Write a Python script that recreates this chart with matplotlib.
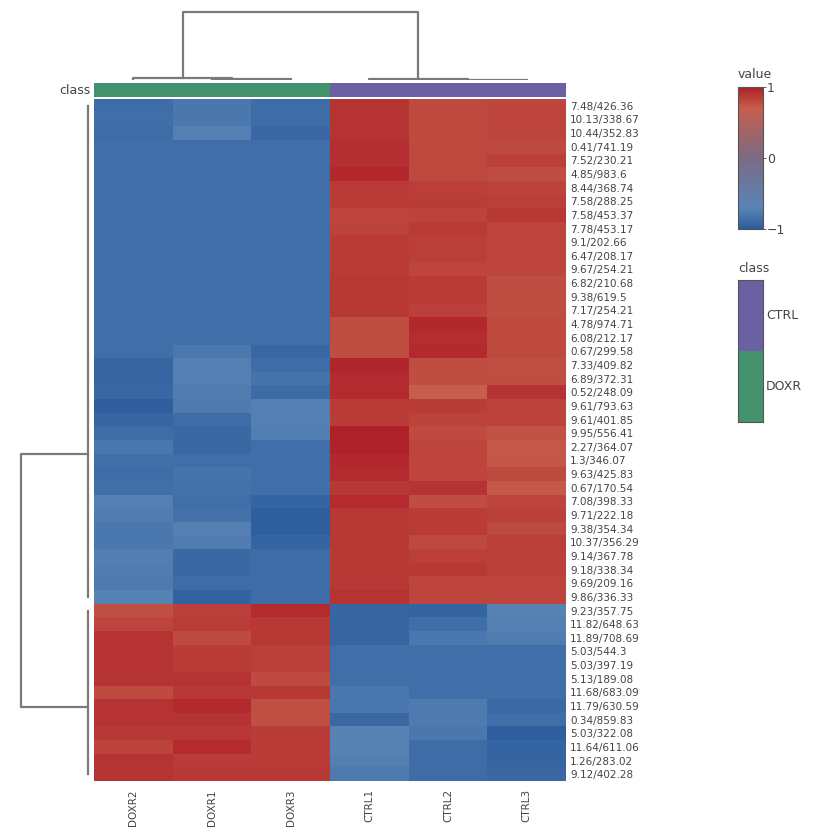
import numpy as np
import matplotlib
matplotlib.use('Agg')
import matplotlib.pyplot as plt
from matplotlib.colors import LinearSegmentedColormap
from matplotlib.patches import Rectangle

# 行标签 (保留时间/质荷比)
row_labels = ['7.48/426.36', '10.13/338.67', '10.44/352.83', '0.41/741.19', '7.52/230.21',
              '4.85/983.6', '8.44/368.74', '7.58/288.25', '7.58/453.37', '7.78/453.17',
              '9.1/202.66', '6.47/208.17', '9.67/254.21', '6.82/210.68', '9.38/619.5',
              '7.17/254.21', '4.78/974.71', '6.08/212.17', '0.67/299.58', '7.33/409.82',
              '6.89/372.31', '0.52/248.09', '9.61/793.63', '9.61/401.85', '9.95/556.41',
              '2.27/364.07', '1.3/346.07', '9.63/425.83', '0.67/170.54', '7.08/398.33',
              '9.71/222.18', '9.38/354.34', '10.37/356.29', '9.14/367.78', '9.18/338.34',
              '9.69/209.16', '9.86/336.33', '9.23/357.75', '11.82/648.63', '11.89/708.69',
              '5.03/544.3', '5.03/397.19', '5.13/189.08', '11.68/683.09', '11.79/630.59',
              '0.34/859.83', '5.03/322.08', '11.64/611.06', '1.26/283.02', '9.12/402.28']

col_labels = ['DOXR2', 'DOXR1', 'DOXR3', 'CTRL1', 'CTRL2', 'CTRL3']
col_class = ['DOXR', 'DOXR', 'DOXR', 'CTRL', 'CTRL', 'CTRL']

doxr2 = [-0.88, -0.86, -0.88, -0.86, -0.86, -0.86, -0.86, -0.86, -0.86, -0.86,
         -0.86, -0.86, -0.86, -0.86, -0.86, -0.86, -0.86, -0.86, -0.86, -0.93,
         -0.93, -0.92, -0.98, -0.93, -0.88, -0.81, -0.86, -0.88, -0.86, -0.74,
         -0.76, -0.80, -0.80, -0.75, -0.76, -0.78, -0.72, 0.77, 0.82, 0.90,
         0.90, 0.90, 0.90, 0.79, 0.90, 0.90, 0.88, 0.83, 0.90, 0.90]
doxr1 = [-0.80, -0.80, -0.74, -0.86, -0.86, -0.86, -0.86, -0.86, -0.86, -0.86,
         -0.86, -0.86, -0.86, -0.86, -0.86, -0.86, -0.86, -0.86, -0.80, -0.74,
         -0.74, -0.76, -0.78, -0.88, -0.91, -0.91, -0.86, -0.83, -0.84, -0.86,
         -0.84, -0.74, -0.76, -0.91, -0.91, -0.88, -0.95, 0.85, 0.86, 0.79,
         0.86, 0.86, 0.90, 0.88, 0.95, 0.90, 0.88, 0.94, 0.86, 0.88]
doxr3 = [-0.88, -0.88, -0.92, -0.86, -0.86, -0.86, -0.86, -0.86, -0.86, -0.86,
         -0.86, -0.86, -0.86, -0.86, -0.86, -0.86, -0.86, -0.86, -0.92, -0.88,
         -0.83, -0.89, -0.74, -0.74, -0.75, -0.86, -0.86, -0.86, -0.86, -0.94,
         -0.98, -0.98, -0.94, -0.88, -0.88, -0.88, -0.88, 0.94, 0.88, 0.88,
         0.85, 0.85, 0.79, 0.88, 0.77, 0.77, 0.86, 0.86, 0.86, 0.88]
ctrl1 = [0.90, 0.90, 0.90, 0.93, 0.92, 0.96, 0.87, 0.86, 0.82, 0.83,
         0.87, 0.87, 0.87, 0.88, 0.88, 0.88, 0.78, 0.78, 0.78, 0.97,
         0.94, 0.94, 0.87, 0.86, 0.99, 0.99, 0.96, 0.94, 0.88, 0.94,
         0.88, 0.88, 0.88, 0.88, 0.88, 0.88, 0.90, -0.93, -0.93, -0.93,
         -0.86, -0.86, -0.86, -0.80, -0.80, -0.91, -0.72, -0.72, -0.74, -0.78]
ctrl2 = [0.80, 0.80, 0.80, 0.80, 0.80, 0.80, 0.85, 0.86, 0.83, 0.87,
         0.85, 0.85, 0.82, 0.87, 0.86, 0.84, 0.96, 0.93, 0.95, 0.78,
         0.78, 0.70, 0.86, 0.83, 0.79, 0.82, 0.82, 0.82, 0.90, 0.78,
         0.86, 0.87, 0.80, 0.85, 0.88, 0.82, 0.82, -0.94, -0.86, -0.80,
         -0.86, -0.86, -0.86, -0.86, -0.78, -0.78, -0.80, -0.88, -0.88, -0.88]
ctrl3 = [0.82, 0.82, 0.82, 0.80, 0.84, 0.78, 0.83, 0.85, 0.88, 0.82,
         0.82, 0.82, 0.82, 0.78, 0.78, 0.78, 0.79, 0.80, 0.80, 0.77,
         0.78, 0.90, 0.83, 0.83, 0.76, 0.72, 0.73, 0.80, 0.72, 0.82,
         0.84, 0.80, 0.85, 0.84, 0.84, 0.82, 0.82, -0.72, -0.74, -0.76,
         -0.86, -0.86, -0.86, -0.86, -0.90, -0.86, -0.98, -0.94, -0.94, -0.92]

# 聚类树: 每个簇覆盖的叶子区间, 与另一簇合并的位置
row_clusters = [(0, 36), (37, 49)]
row_join_pos = [26.0, 44.6]
col_sub_pos = [1.75, 4.75]
merge_height = 1.0
inner_height = [0.025, 0.012]

class_colors = {'DOXR': '#44926d', 'CTRL': '#6961a1'}
line_col = '#7a7a7a'
text_col = '#444444'

cmap = LinearSegmentedColormap.from_list(
    'bluered', [(0.0, '#2c5c9c'), (0.15, '#5a85b6'), (0.5, '#7a6b84'),
                (0.85, '#c65e4b'), (1.0, '#af2029')])

data = np.array([doxr2, doxr1, doxr3, ctrl1, ctrl2, ctrl3]).T
n_rows, n_cols = data.shape

W, H = 818, 834
fig = plt.figure(figsize=(W / 100, H / 100), dpi=100)


def px_axes(x0, y0, x1, y1):
    return fig.add_axes([x0 / W, 1 - y1 / H, (x1 - x0) / W, (y1 - y0) / H])


# 热图
ax = px_axes(94, 99, 566, 781)
ax.pcolormesh(np.arange(n_cols + 1), np.arange(n_rows + 1), data,
              cmap=cmap, vmin=-1, vmax=1)
ax.set_xlim(0, n_cols)
ax.set_ylim(n_rows, 0)
ax.set_xticks(np.arange(n_cols) + 0.5)
ax.set_xticklabels(col_labels, rotation=90, fontsize=7.5, color=text_col)
ax.set_yticks(np.arange(n_rows) + 0.5)
ax.set_yticklabels(row_labels, fontsize=7.5, color=text_col)
ax.yaxis.tick_right()
ax.tick_params(length=0, pad=3)
ax.tick_params(axis='x', pad=6)
for s in ax.spines.values():
    s.set_visible(False)

# 分组条
axc = px_axes(94, 83, 566, 97)
for i, c in enumerate(col_class):
    axc.add_patch(Rectangle((i, 0), 1, 1, color=class_colors[c], lw=0))
axc.set_xlim(0, n_cols)
axc.set_ylim(0, 1)
axc.set_xticks([])
axc.set_yticks([])
for s in axc.spines.values():
    s.set_visible(False)
fig.text(91 / W, 1 - 90 / H, 'class', ha='right', va='center', fontsize=9, color=text_col)

# 顶部聚类树
axt = px_axes(94, 10, 566, 80)
axt.set_xlim(0, n_cols)
axt.set_ylim(0, merge_height * 1.03)
lw = 1.6
for k, (a, b) in enumerate([(0, 2), (3, 5)]):
    h = inner_height[k]
    sub = col_sub_pos[k]
    axt.plot([b - 1 + 0.5, b - 1 + 0.5, b + 0.5, b + 0.5], [0, h * 0.5, h * 0.5, 0], color=line_col, lw=lw)
    axt.plot([a + 0.5, a + 0.5, sub, sub], [0, h, h, h * 0.5], color=line_col, lw=lw)
xl = (0.5 + col_sub_pos[0]) / 2
xr = (3.5 + col_sub_pos[1]) / 2
axt.plot([xl, xl, xr, xr], [inner_height[0], merge_height, merge_height, inner_height[1]],
         color=line_col, lw=lw)
axt.axis('off')

# 左侧聚类树
axl = px_axes(18, 99, 94, 781)
axl.set_ylim(n_rows, 0)
axl.set_xlim(merge_height * 1.04, -0.06)
for k, (a, b) in enumerate(row_clusters):
    axl.plot([0.02, 0.02], [a + 0.5, b + 0.5], color=line_col, lw=lw)
ya, yb = row_join_pos
axl.plot([0.02, merge_height, merge_height, 0.02], [ya, ya, yb, yb], color=line_col, lw=lw)
axl.axis('off')

# 颜色条
axcb = px_axes(738, 87, 763, 229)
sm = plt.cm.ScalarMappable(cmap=cmap, norm=plt.Normalize(-1, 1))
cb = fig.colorbar(sm, cax=axcb, ticks=[-1, 0, 1])
cb.ax.set_yticklabels(['\u22121', '0', '1'])
cb.ax.tick_params(labelsize=9, colors=text_col, length=2, width=0.6, pad=1)
cb.outline.set_edgecolor('#555555')
cb.outline.set_linewidth(0.8)
fig.text(738 / W, 1 - 75 / H, 'value', ha='left', va='center', fontsize=9, color=text_col)

# 分组图例
axg = px_axes(738, 280, 763, 422)
legend_items = ['CTRL', 'DOXR']
for i, name in enumerate(legend_items):
    axg.add_patch(Rectangle((0, 1 - (i + 1) * 0.5), 1, 0.5, color=class_colors[name], lw=0))
    axg.text(1.12, 1 - (i + 0.5) * 0.5, name, transform=axg.transAxes,
             ha='left', va='center', fontsize=9, color=text_col)
axg.set_xlim(0, 1)
axg.set_ylim(0, 1)
axg.set_xticks([])
axg.set_yticks([])
for s in axg.spines.values():
    s.set_edgecolor('#555555')
    s.set_linewidth(0.8)
fig.text(738 / W, 1 - 268 / H, 'class', ha='left', va='center', fontsize=9, color=text_col)

fig.savefig('out.png', dpi=100, facecolor='white')
